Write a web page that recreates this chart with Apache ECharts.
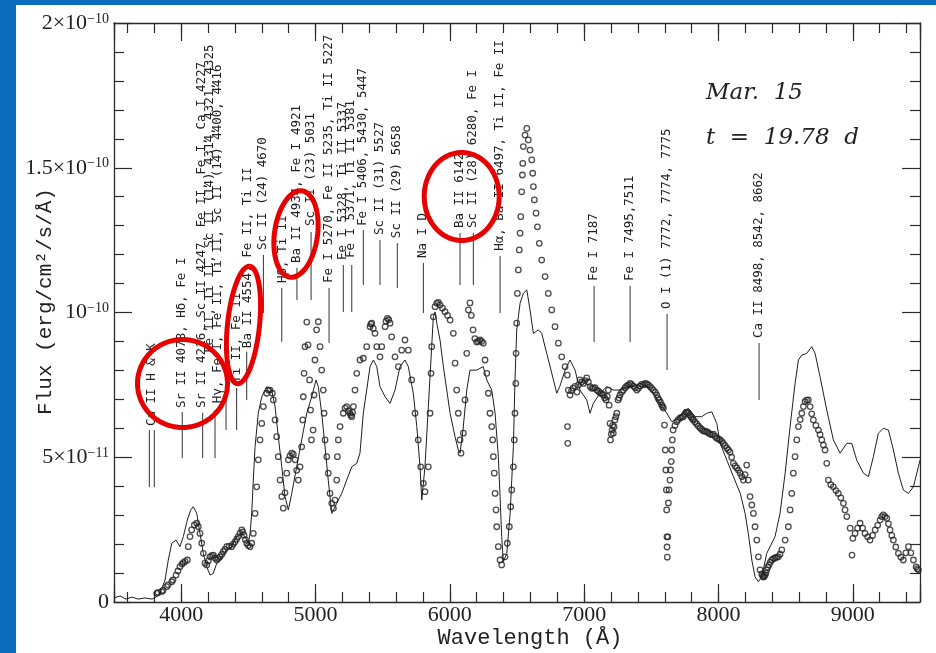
<!DOCTYPE html>
<html><head><meta charset="utf-8">
<script src="https://cdn.jsdelivr.net/npm/echarts@6/dist/echarts.min.js"></script>
<style>
html,body{margin:0;padding:0;background:#fff;}
#wrap{position:relative;width:936px;height:653px;background:#0b6cbf;overflow:hidden;}
#paper{position:absolute;left:16px;top:5px;width:920px;height:648px;background:#fff;}
#chart{position:absolute;left:0;top:0;width:936px;height:653px;}
</style></head><body>
<div id="wrap"><div id="paper"></div><div id="chart"></div></div>
<script>
// ---------------- DATA (flux in units of 1e-11 erg/cm2/s/A) ----------------
const xTickValues = [4000, 5000, 6000, 7000, 8000, 9000];
const yTickValues = [0, 5, 10, 15, 20];
const yTickText = ['0', '5×10{s|−11}', '10{s|−10}', '1.5×10{s|−10}', '2×10{s|−10}'];

// observed spectrum (open circles): [wavelength, flux]
const observedPoints = [
[3818,0.30],[3828,0.33],[3855,0.36],[3865,0.40],[3892,0.53],[3902,0.59],[3930,0.70],[3939,0.76],
[3962,0.93],[3976,1.07],[3991,1.22],[4006,1.31],[4016,1.36],[4029,1.40],[4046,1.45],[4053,1.91],
[4066,2.26],[4078,2.49],[4098,2.66],[4116,2.72],[4128,2.60],[4140,2.37],[4153,2.03],[4165,1.68],
[4177,1.34],[4190,1.28],[4202,1.42],[4215,1.56],[4227,1.60],[4239,1.62],[4252,1.52],[4265,1.45],
[4277,1.50],[4289,1.56],[4302,1.64],[4314,1.74],[4326,1.82],[4339,1.91],[4357,1.93],[4376,1.91],
[4388,2.00],[4401,2.08],[4413,2.17],[4425,2.26],[4438,2.38],[4451,2.49],[4459,2.42],[4468,2.31],
[4478,2.15],[4488,2.03],[4500,1.95],[4513,1.91],[4525,2.03],
[4537,2.37],[4550,3.06],[4562,3.98],[4574,4.91],[4587,5.60],[4600,6.17],[4612,6.75],[4637,7.21],
[4649,7.32],[4661,7.32],[4679,7.21],[4686,6.98],[4699,6.29],[4711,5.71],[4723,5.02],[4736,4.21],
[4749,3.64],[4760,3.24],[4773,3.77],[4786,4.45],[4798,4.91],[4810,5.05],[4823,5.14],[4835,5.10],
[4848,4.91],[4860,4.55],[4872,4.21],
[4885,4.67],[4897,5.36],[4905,6.29],[4909,7.09],[4915,7.90],[4922,8.82],[4935,9.67],[4944,8.88],
[4956,7.67],[4963,6.63],[4970,5.60],[4982,5.94],[4989,7.15],[4996,8.36],[5008,9.40],[5021,9.68],
[5034,8.82],[5046,8.01],[5058,7.32],[5064,6.52],[5071,5.60],[5084,5.02],[5095,4.45],[5108,3.75],
[5121,3.41],[5133,3.24],[5145,3.52],[5158,4.21],[5163,5.02],[5170,5.60],[5183,6.06],[5207,6.52],
[5220,6.70],[5232,6.75],[5245,6.60],[5257,6.52],[5263,6.45],[5270,6.40],[5276,6.55],[5282,6.75],
[5294,7.32],[5307,7.90],[5331,8.36],[5356,8.42],
[5381,8.82],[5406,9.51],[5412,9.60],[5419,9.63],[5430,9.45],[5443,9.28],[5456,8.82],[5480,8.47],
[5493,8.82],[5518,9.51],[5525,9.70],[5535,9.80],[5545,9.75],[5555,9.63],[5567,9.16],[5592,8.47],
[5617,8.13],[5642,8.70],[5666,9.05],[5691,8.70],
[5716,7.67],[5741,6.52],[5765,5.60],[5783,4.67],[5803,4.10],[5815,3.81],[5840,4.67],[5853,6.52],
[5860,7.90],[5865,8.82],[5877,9.85],[5890,10.20],[5903,10.32],[5915,10.35],[5927,10.26],[5945,10.15],
[5964,10.03],[5983,9.90],[6002,9.74],[6026,9.28],
[6039,8.25],[6051,7.32],[6063,6.52],[6076,5.60],[6083,5.14],[6101,5.83],[6113,6.98],[6126,8.59],
[6138,10.09],[6150,10.33],[6160,9.90],[6173,9.40],[6186,9.10],[6200,8.98],[6212,9.00],[6225,9.05],
[6237,9.00],[6249,8.94],[6262,8.36],[6275,7.90],
[6287,7.21],[6299,6.52],[6312,6.06],[6319,5.60],[6324,5.02],[6331,4.45],[6337,3.75],[6344,3.18],
[6349,2.60],[6361,1.91],[6374,1.45],[6386,1.28],[6411,1.56],[6428,2.03],[6443,2.60],[6453,3.29],
[6461,3.87],[6473,4.67],[6480,5.60],[6485,6.52],[6491,7.55],[6493,8.59],[6498,9.63],[6503,10.66],
[6510,11.47],[6517,12.16],[6523,12.74],[6528,13.31],[6535,14.17],[6540,14.75],[6543,15.15],[6547,15.73],
[6560,16.13],[6573,16.36],[6584,15.96],[6597,15.61],[6610,15.27],[6617,14.81],[6622,14.35],[6629,13.89],
[6642,13.43],[6652,12.96],[6666,12.39],[6684,11.81],[6709,11.24],[6733,10.66],[6759,10.09],[6783,9.51],
[6808,8.94],[6833,8.47],[6858,8.13],[6875,7.84],[6882,7.32],[6876,6.06],[6878,5.48],[6895,7.15],
[6906,7.30],[6917,7.39],[6932,7.45],[6947,7.25],[6958,7.50],[6969,7.67],[6981,7.60],[6994,7.55],
[7006,7.65],[7019,7.74],[7031,7.60],[7044,7.44],[7056,7.38],[7068,7.39],[7081,7.40],[7094,7.32],
[7106,7.28],[7118,7.22],[7130,7.20],[7143,7.15],[7153,7.05],[7163,6.98],[7172,7.10],[7180,7.32],
[7186,6.80],[7193,6.17],[7196,5.60],[7202,5.80],[7208,5.94],[7212,6.10],[7217,5.83],[7223,6.05],
[7229,6.29],[7236,6.40],[7243,6.52],[7252,6.98],[7260,7.05],[7267,7.15],[7280,7.25],[7292,7.32],
[7305,7.40],[7317,7.46],[7330,7.50],[7342,7.55],[7354,7.52],[7366,7.46],[7379,7.40],[7392,7.32],
[7404,7.38],[7416,7.46],[7428,7.52],[7441,7.50],[7454,7.55],[7466,7.53],[7478,7.50],[7491,7.44],
[7503,7.38],[7515,7.32],[7528,7.25],[7540,7.15],[7549,7.05],[7558,6.98],[7568,6.90],
[7578,6.80],[7584,6.75],[7590,6.70],[7598,6.11],[7604,5.25],[7608,4.56],[7612,3.87],[7614,3.18],[7616,2.25],
[7617,1.90],[7619,1.55],[7623,2.25],[7627,3.42],[7632,3.87],[7639,4.21],[7643,4.56],[7648,4.85],
[7652,5.25],[7656,5.60],[7662,5.94],[7676,6.10],[7689,6.23],[7701,6.30],[7714,6.36],[7726,6.38],
[7738,6.40],[7748,6.48],[7759,6.56],[7767,6.55],[7776,6.52],[7786,6.45],[7796,6.39],[7805,6.33],
[7813,6.29],[7825,6.22],[7838,6.15],[7850,6.08],[7863,6.01],[7875,5.96],[7887,5.91],[7900,5.90],
[7913,5.88],[7925,5.84],[7937,5.80],[7950,5.78],[7962,5.80],[7975,5.72],[7987,5.66],[8000,5.63],
[8012,5.60],[8024,5.55],[8036,5.48],[8049,5.40],[8062,5.32],[8074,5.25],[8086,5.18],[8098,5.00],
[8111,4.79],[8124,4.70],[8136,4.63],[8149,4.55],[8162,4.45],[8174,4.33],
[8185,4.21],[8197,4.40],[8210,4.73],[8222,4.21],[8235,3.64],[8248,3.35],[8260,3.06],[8272,2.60],[8285,2.14],
[8297,1.56],[8309,1.11],[8322,0.97],[8328,0.90],[8334,0.86],[8340,0.88],[8347,0.93],[8353,1.00],
[8359,1.11],[8367,1.20],[8376,1.28],[8386,1.38],[8397,1.45],[8409,1.50],
[8421,1.52],[8433,1.55],[8446,1.56],[8458,1.65],[8471,1.80],[8496,2.14],[8520,2.60],[8533,3.18],[8545,3.75],[8557,4.45],
[8570,5.02],[8583,5.60],[8595,6.06],[8608,6.30],[8620,6.52],[8632,6.75],[8644,6.92],[8656,6.97],
[8669,6.98],[8682,6.75],[8694,6.50],[8706,6.29],[8725,6.10],
[8744,5.94],[8756,5.78],[8769,5.60],[8781,5.42],[8793,5.25],[8806,4.79],[8818,4.21],[8836,4.05],
[8855,3.98],[8874,3.85],[8892,3.75],[8911,3.60],[8930,3.41],[8942,3.18],
[8955,2.95],[8980,2.55],[8994,1.62],[9000,2.20],[9017,2.37],[9035,2.55],[9054,2.72],[9073,2.55],
[9091,2.37],[9110,2.25],[9128,2.14],[9147,2.30],[9166,2.49],[9185,2.65],
[9203,2.83],[9215,2.95],[9227,3.01],[9240,2.95],[9253,2.89],[9265,2.70],[9277,2.49],[9290,2.30],
[9302,2.14],[9320,1.90],[9339,1.68],[9358,1.55],[9376,1.45],[9395,1.70],[9414,1.91],[9432,1.70],
[9451,1.45],[9471,1.21],[9480,1.15],[9488,1.11]
];

// synthetic model spectrum (solid line): [wavelength, flux]
const modelPoints = [
[3500,0.14],[3545,0.21],[3589,0.10],[3634,0.17],[3679,0.10],[3731,0.14],[3783,0.10],[3813,0.17],
[3842,0.30],[3880,0.76],[3904,1.45],[3930,2.03],[3962,2.14],[3991,1.91],[4016,2.26],[4046,2.83],
[4071,3.18],[4090,3.29],[4116,3.06],[4140,2.37],[4165,1.68],[4190,1.22],[4215,0.93],[4239,0.99],
[4265,1.34],[4302,1.56],[4339,1.80],[4376,1.91],[4414,2.26],[4451,2.37],[4475,2.26],[4500,2.03],
[4513,2.37],[4525,3.06],[4537,4.21],[4550,5.36],[4574,6.52],[4600,7.09],[4637,7.44],[4674,7.32],
[4699,6.75],[4723,5.71],[4749,4.67],[4773,3.64],[4798,3.18],[4823,3.75],[4860,4.67],[4897,5.60],
[4935,6.52],[4972,7.09],[5004,7.67],[5021,7.44],[5046,6.52],[5071,5.36],[5095,4.21],[5121,3.06],
[5158,3.41],[5195,3.75],[5232,4.21],[5270,4.67],[5307,4.79],[5331,5.14],[5356,6.52],[5381,7.32],
[5406,8.13],[5431,8.36],[5456,8.13],[5480,7.44],[5518,7.09],[5555,6.86],[5592,7.32],[5629,8.13],
[5666,8.36],[5691,8.13],[5728,7.21],[5754,6.06],[5778,4.67],[5791,3.52],[5815,4.67],[5840,6.75],
[5865,8.82],[5877,9.85],[5890,10.02],[5903,9.63],[5927,9.05],[5952,8.13],[5977,7.32],[6002,6.52],
[6039,5.71],[6063,5.25],[6076,5.14],[6098,5.94],[6126,7.32],[6150,8.01],[6200,8.01],[6249,8.13],
[6275,7.67],[6312,7.32],[6337,6.52],[6361,5.02],[6374,3.64],[6386,2.26],[6398,1.39],[6424,1.68],
[6449,3.06],[6473,5.36],[6485,7.67],[6498,9.40],[6523,10.32],[6547,10.66],[6573,10.78],[6597,10.09],
[6622,9.28],[6659,9.40],[6684,9.28],[6721,8.59],[6759,7.90],[6796,7.21],[6818,7.44],[6858,8.01],
[6895,8.36],[6932,8.01],[6969,7.32],[7019,6.98],[7044,6.52],[7068,6.86],[7118,7.21],[7168,7.44],
[7217,7.32],[7267,7.32],[7317,7.44],[7366,7.44],[7416,7.55],[7466,7.44],[7515,7.21],[7565,6.86],
[7615,6.52],[7652,6.23],[7689,6.29],[7727,6.52],[7776,6.69],[7826,6.40],[7875,6.40],[7913,6.52],
[7950,6.57],[7987,6.17],[8012,5.48],[8062,4.90],[8111,4.33],[8162,3.75],[8198,3.06],[8222,2.37],
[8248,1.45],[8272,0.87],[8297,0.70],[8322,0.87],[8359,1.68],[8421,2.26],[8458,3.06],[8496,4.45],
[8533,6.06],[8570,7.55],[8595,8.36],[8620,8.53],[8657,8.59],[8694,8.82],[8719,8.59],[8756,7.78],
[8806,6.63],[8855,5.60],[8905,5.14],[8955,5.48],[8992,5.48],[9029,4.90],[9079,4.45],[9116,4.33],
[9153,5.02],[9190,5.83],[9227,6.00],[9265,5.94],[9302,5.25],[9339,4.45],[9376,3.87],[9414,3.75],
[9451,3.98],[9488,4.67],[9500,4.90]
];

// line-identification ticks: wavelength, lower flux, upper flux
const markWave = [3763,3800,4008,4160,4252,4334,4413,4488,4612,4749,4862,4967,5101,5207,5270,5356,5480,5609,5803,6076,6175,6374,7074,7342,7617,8302];
const markLow  = [3.97,3.97,4.97,4.97,4.97,5.94,5.94,6.98,9.98,8.98,10.43,10.43,8.95,10.02,10.02,10.95,10.95,10.85,9.98,10.95,10.95,9.98,8.98,8.98,8.01,6.98];
const markHigh = [5.94,5.94,6.56,6.53,6.63,7.32,7.39,8.65,11.99,10.85,11.54,12.78,10.85,11.64,11.64,12.85,12.50,12.40,11.71,12.75,12.75,11.95,10.92,10.92,9.95,8.95];

// line-identification texts: wavelength, flux where the text starts, text
const labelWave = [3779,4006,4155,4215,4271,4412,4498,4609,4758,4862,4967,5101,5205,5264,5354,5480,5607,5801,6076,6173,6374,7074,7342,7617,8302];
const labelBase = [6.01,6.63,6.63,8.53,6.80,7.50,8.70,12.09,10.95,11.64,12.92,10.95,11.74,11.81,12.92,12.61,12.50,11.81,12.85,12.85,12.06,11.02,11.02,10.05,9.05];
const labelText = [
 'Ca II H & K',
 'Sr II 4078, Hδ, Fe I',
 'Sr II 4216, Sc II 4247, Fe II, Fe I, Ca I 4227',
 'Fe II, Ti II, Sc II (14) 4314, 4321, 4325',
 'Hγ, Fe I, Fe II, Ti II, Sc II (14) 4400, 4416',
 'Ti II, Fe II',
 'Ba II 4554, Fe II, Ti II',
 'Sc II (24) 4670',
 'Hβ, Ti II',
 'Ba II 4934, Fe I 4921',
 'Sc II (23) 5031',
 'Fe I 5270, Fe II 5235, Ti II 5227',
 'Fe I 5328, Ti II 5337',
 'Fe I 5371, Ti II 5381',
 'Fe I 5406, 5430, 5447',
 'Sc II (31) 5527',
 'Sc II (29) 5658',
 'Na I D',
 'Ba II 6142',
 'Sc II (28) 6280, Fe I',
 'Hα, Ba II 6497, Ti II, Fe II',
 'Fe I 7187',
 'Fe I 7495,7511',
 'O I (1) 7772, 7774, 7775',
 'Ca II 8498, 8542, 8662'
];

const annotationLines = ['Mar.  15', 't  =  19.78  d'];

// ---------------- CHART ----------------
const INK = '#222';
const AX = '#2b2b2b';
function ellipsePts(cx, cy, rx, ry, deg) {
  const a = deg * Math.PI / 180, pts = [];
  for (let i = 0; i < 90; i++) {
    const t = i / 90 * 2 * Math.PI;
    const x = rx * Math.cos(t), y = ry * Math.sin(t);
    pts.push([cx + x * Math.cos(a) - y * Math.sin(a), cy + x * Math.sin(a) + y * Math.cos(a)]);
  }
  return pts;
}
const ellipses = [
  [182.5, 383.5, 45, 44, 0],
  [243.5, 325, 16, 59, 6],
  [296, 234, 21.5, 43.5, 8],
  [461.7, 196.5, 37.5, 44, 0]
];

const tickStyle = {color: AX, width: 1.2};
// kind: 'labels' (line + labels, no ticks), 'major' (long inward ticks), 'minor' (short inward ticks)
function xAxisDef(pos, kind, showLine) {
  const major = kind !== 'minor';
  const labels = kind === 'labels';
  return {
    type: 'value', position: pos, min: 3500, max: 9500,
    minInterval: major ? 1000 : 200, maxInterval: major ? 1000 : 200,
    splitNumber: major ? 6 : 30,
    axisLine: {show: showLine, onZero: false, lineStyle: {color: AX, width: 1.3}},
    axisTick: {show: !labels, inside: true, length: major ? 18 : 10, lineStyle: tickStyle},
    axisLabel: {show: labels, margin: 2, showMinLabel: false, showMaxLabel: false,
      fontFamily: 'Liberation Serif', fontSize: 22, color: INK,
      formatter: v => xTickValues.indexOf(v) >= 0 ? String(v) : ''},
    splitLine: {show: false},
    name: labels ? 'Wavelength (Å)' : '',
    nameLocation: 'middle', nameGap: 25, nameMoveOverlap: false,
    nameTextStyle: {fontFamily: 'Liberation Mono', fontSize: 22, color: INK, padding: [0, 0, 0, 26]}
  };
}
function yAxisDef(pos, labels) {
  return {
    type: 'value', position: pos, min: 0, max: 20, interval: 5,
    axisLine: {show: true, onZero: false, lineStyle: {color: AX, width: 1.3}},
    axisTick: {show: true, inside: true, length: 18, lineStyle: tickStyle},
    minorTick: {show: true, splitNumber: 5, length: 10, lineStyle: tickStyle},
    axisLabel: {show: labels, margin: 5, fontFamily: 'Liberation Serif', fontSize: 22, color: INK,
      formatter: v => { const i = yTickValues.indexOf(v); return i >= 0 ? yTickText[i] : ''; },
      rich: {s: {fontFamily: 'Liberation Serif', fontSize: 14, color: INK, verticalAlign: 'top', lineHeight: 14}}},
    splitLine: {show: false},
    name: labels ? 'Flux (erg/cm²/s/Å)' : '',
    nameLocation: 'middle', nameRotate: 90, nameGap: 58, nameMoveOverlap: false,
    nameTextStyle: {fontFamily: 'Liberation Mono', fontSize: 21, color: INK, padding: [0, 0, 0, 22]}
  };
}

const chart = echarts.init(document.getElementById('chart'), null, {renderer: 'canvas'});
chart.setOption({
  backgroundColor: 'transparent',
  animation: false,
  grid: {left: 114, right: 16, top: 23, bottom: 51, containLabel: false, outerBoundsMode: 'none'},
  xAxis: [xAxisDef('bottom', 'labels', true), xAxisDef('bottom', 'minor', false),
          xAxisDef('bottom', 'major', false),
          xAxisDef('top', 'major', true), xAxisDef('top', 'minor', false)],
  yAxis: [yAxisDef('left', true), yAxisDef('right', false)],
  series: [
    {
      type: 'line', name: 'model', data: modelPoints, showSymbol: false, symbol: 'none',
      lineStyle: {color: '#1e1e1e', width: 1}, silent: true, z: 3
    },
    {
      type: 'scatter', name: 'observed', data: observedPoints, symbol: 'circle', symbolSize: 5.5,
      itemStyle: {color: 'rgba(255,255,255,0)', borderColor: '#222', borderWidth: 1.3},
      silent: true, z: 4
    },
    {
      type: 'custom', name: 'line ids', silent: true, z: 5,
      data: markWave.map((w, i) => [w, markLow[i], markHigh[i]]),
      encode: {x: 0, y: [1, 2]},
      renderItem: (params, api) => {
        const a = api.coord([api.value(0), api.value(1)]);
        const b = api.coord([api.value(0), api.value(2)]);
        return {type: 'line', shape: {x1: a[0], y1: a[1], x2: b[0], y2: b[1]},
                style: {stroke: '#333', lineWidth: 1}};
      }
    },
    {
      type: 'custom', name: 'line labels', silent: true, z: 5,
      data: labelWave.map((w, i) => [w, labelBase[i]]),
      encode: {x: 0, y: 1},
      renderItem: (params, api) => {
        const p = api.coord([api.value(0), api.value(1)]);
        return {type: 'text', x: p[0], y: p[1] - 2, rotation: Math.PI / 2,
                style: {text: labelText[params.dataIndex], font: '12.5px "DejaVu Sans Mono"',
                        fill: INK, align: 'left', verticalAlign: 'middle'}};
      }
    }
  ],
  graphic: [
    ...ellipses.map(e => ({type: 'polygon', z: 100, silent: true,
      shape: {points: ellipsePts(e[0], e[1], e[2], e[3], e[4])},
      style: {fill: 'none', stroke: '#e60000', lineWidth: 5}})),
    {type: 'text', left: 706, top: 82, z: 50, silent: true,
     style: {text: annotationLines[0], font: 'italic 23px "DejaVu Serif"', fill: INK}},
    {type: 'text', left: 706, top: 127, z: 50, silent: true,
     style: {text: annotationLines[1], font: 'italic 23px "DejaVu Serif"', fill: INK}}
  ]
});
</script></body></html>
